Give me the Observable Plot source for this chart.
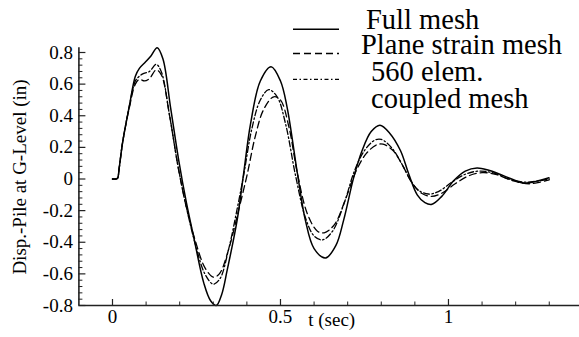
<!DOCTYPE html>
<html>
<head>
<meta charset="utf-8">
<script src="https://cdn.jsdelivr.net/npm/d3@7"></script>
<script src="https://cdn.jsdelivr.net/npm/@observablehq/plot@0.6"></script>
<style>
  html, body { margin: 0; padding: 0; background: #fff; }
  #chart { position: relative; width: 579px; height: 337px; overflow: hidden; }
  svg { display: block; }
</style>
</head>
<body>
<div id="chart"></div>
<script>
// ---- Data ----
const seriesNames = ["Full mesh", "Plane strain mesh", "560 elem.", "coupled mesh"];

const tFull = [0.000,0.010,0.015,0.020,0.030,0.050,0.068,0.080,0.098,0.115,0.133,0.150,0.173,0.197,0.220,0.242,0.272,0.292,0.309,0.325,0.341,0.371,0.390,0.411,0.440,0.472,0.500,0.520,0.550,0.574,0.600,0.634,0.665,0.688,0.718,0.743,0.770,0.796,0.825,0.857,0.882,0.907,0.930,0.951,0.980,1.016,1.050,1.085,1.120,1.165,1.224,1.260,1.299];
const vFull = [0.000,0.000,0.005,0.070,0.230,0.460,0.650,0.700,0.740,0.780,0.830,0.760,0.450,0.120,-0.150,-0.370,-0.660,-0.770,-0.800,-0.730,-0.580,-0.260,0.030,0.350,0.620,0.710,0.620,0.450,0.040,-0.260,-0.440,-0.500,-0.420,-0.260,0.010,0.180,0.300,0.340,0.290,0.180,0.030,-0.100,-0.150,-0.160,-0.110,-0.010,0.050,0.070,0.055,0.020,-0.026,-0.015,0.008];

const tPlane = [0.000,0.010,0.015,0.020,0.030,0.050,0.068,0.080,0.095,0.110,0.130,0.145,0.170,0.195,0.220,0.245,0.275,0.300,0.318,0.345,0.375,0.400,0.425,0.450,0.480,0.500,0.525,0.550,0.580,0.610,0.630,0.660,0.695,0.725,0.755,0.785,0.805,0.835,0.865,0.890,0.920,0.950,0.980,1.020,1.060,1.100,1.140,1.190,1.240,1.300];
const vPlane = [0.000,0.000,0.005,0.070,0.230,0.450,0.600,0.630,0.620,0.635,0.690,0.660,0.400,0.080,-0.180,-0.380,-0.560,-0.620,-0.600,-0.450,-0.200,0.020,0.270,0.440,0.520,0.500,0.330,0.040,-0.220,-0.330,-0.340,-0.290,-0.120,0.050,0.160,0.215,0.220,0.180,0.080,-0.020,-0.090,-0.110,-0.090,-0.030,0.020,0.040,0.030,-0.010,-0.030,-0.005];

const tCoupled = [0.000,0.010,0.015,0.020,0.030,0.050,0.068,0.080,0.090,0.110,0.130,0.145,0.170,0.195,0.220,0.245,0.275,0.300,0.320,0.345,0.370,0.390,0.415,0.440,0.465,0.490,0.515,0.545,0.575,0.600,0.625,0.655,0.690,0.720,0.750,0.780,0.800,0.830,0.860,0.885,0.910,0.940,0.970,1.010,1.050,1.090,1.130,1.180,1.230,1.300];
const vCoupled = [0.000,0.000,0.005,0.070,0.230,0.460,0.620,0.650,0.665,0.680,0.725,0.680,0.400,0.080,-0.180,-0.400,-0.600,-0.665,-0.630,-0.450,-0.200,0.020,0.320,0.500,0.565,0.520,0.350,0.020,-0.250,-0.360,-0.385,-0.330,-0.150,0.050,0.180,0.245,0.250,0.200,0.100,0.000,-0.070,-0.095,-0.080,-0.020,0.030,0.050,0.040,0.000,-0.020,0.000];

const yMajorTicks = [-0.8,-0.6,-0.4,-0.2,0,0.2,0.4,0.6,0.8];
const yTickLabels = ["-0.8","-0.6","-0.4","-0.2","0","0.2","0.4","0.6","0.8"];
const xMajorTicks = [0,0.5,1];
const xTickLabels = ["0","0.5","1"];
const xMinorTicks = [0.1,0.2,0.3,0.4,0.6,0.7,0.8,0.9,1.1,1.2,1.3];
const yMinorTicks = d3.range(-40, 41, 2).map(d => +(d / 50).toFixed(2)).filter(d => !yMajorTicks.some(m => Math.abs(m - d) < 1e-9));

const xTitle = "t (sec)";
const yTitle = "Disp.-Pile at G-Level (in)";

// ---- Build tables ----
const toRows = (ts, vs) => ts.map((t, i) => ({t, v: vs[i]}));
const full = toRows(tFull, vFull);
const plane = toRows(tPlane, vPlane);
const coupled = toRows(tCoupled, vCoupled);

const W = 579, H = 337;
const mL = 78.4, mR = 0, mT = 52, mB = 32;
const frameW = W - mL - mR, frameH = H - mT - mB;
const font = "'Liberation Serif', 'Times New Roman', serif";

const chart = Plot.plot({
  width: W, height: H,
  marginLeft: mL, marginRight: mR, marginTop: mT, marginBottom: mB,
  style: {fontFamily: font, fontSize: "19px", background: "#fff", color: "#000", overflow: "visible"},
  x: {domain: [-0.1, 1.39], axis: null},
  y: {domain: [-0.8, 0.8], axis: null},
  marks: [
    // data lines
    Plot.line(full, {x: "t", y: "v", curve: "catmull-rom", stroke: "#000", strokeWidth: 1.5}),
    Plot.line(plane, {x: "t", y: "v", curve: "catmull-rom", stroke: "#000", strokeWidth: 1.3, strokeDasharray: "7,4"}),
    Plot.line(coupled, {x: "t", y: "v", curve: "catmull-rom", stroke: "#000", strokeWidth: 1.3, strokeDasharray: "6,2.5,1.5,2.5"}),
    // axis lines
    Plot.ruleX([-0.1], {y1: -0.8, y2: 0.83, stroke: "#222", strokeWidth: 1.6}),
    Plot.ruleY([-0.8], {stroke: "#222", strokeWidth: 1.6}),
    // inward ticks
    Plot.ruleY(yMajorTicks, {stroke: "#222", strokeWidth: 1.2, insetRight: frameW - 7}),
    Plot.ruleY(yMinorTicks, {stroke: "#222", strokeWidth: 1, insetRight: frameW - 4}),
    Plot.ruleX(xMajorTicks, {stroke: "#222", strokeWidth: 1.2, insetTop: frameH - 6}),
    Plot.ruleX(xMinorTicks, {stroke: "#222", strokeWidth: 1, insetTop: frameH - 3.5}),
    // tick labels
    Plot.text(yMajorTicks, {y: d => d, text: (d, i) => yTickLabels[i], frameAnchor: "left", textAnchor: "end", lineAnchor: "middle", dx: -6, fontSize: 19, fontFamily: font}),
    Plot.text(xMajorTicks, {x: d => d, text: (d, i) => xTickLabels[i], frameAnchor: "bottom", textAnchor: "middle", lineAnchor: "bottom", dy: 17, fontSize: 19, fontFamily: font}),
    // axis titles
    Plot.text([xTitle], {text: d => d, frameAnchor: "bottom", textAnchor: "middle", lineAnchor: "bottom", dx: 2.5, dy: 20, fontSize: 19, fontFamily: font}),
    Plot.text([yTitle], {text: d => d, frameAnchor: "left", textAnchor: "middle", lineAnchor: "middle", rotate: -90, dx: -59.4, dy: -2, fontSize: 19, fontFamily: font})
  ]
});

// ---- Legend (drawn into the same SVG) ----
const svg = d3.select(chart);
const lg = svg.append("g").attr("font-family", font).attr("font-size", 28.5).attr("fill", "#000").attr("text-anchor", "start");
const legendLines = [
  {y: 29.3, dash: null, w: 1.5},
  {y: 53.5, dash: "7,4", w: 1.3},
  {y: 79.3, dash: "4,2.5,1.5,2.5", w: 1.3}
];
legendLines.forEach(d => {
  lg.append("line").attr("x1", 293).attr("x2", 339).attr("y1", d.y).attr("y2", d.y)
    .attr("stroke", "#000").attr("stroke-width", d.w).attr("stroke-dasharray", d.dash);
});
const legendText = [
  {x: 366, y: 28.5, t: seriesNames[0]},
  {x: 361, y: 53.5, t: seriesNames[1]},
  {x: 371, y: 80.5, t: seriesNames[2]},
  {x: 371, y: 107.5, t: seriesNames[3]}
];
legendText.forEach(d => lg.append("text").attr("x", d.x).attr("y", d.y).attr("text-anchor", "start").text(d.t));

document.getElementById("chart").appendChild(chart);
</script>
</body>
</html>
